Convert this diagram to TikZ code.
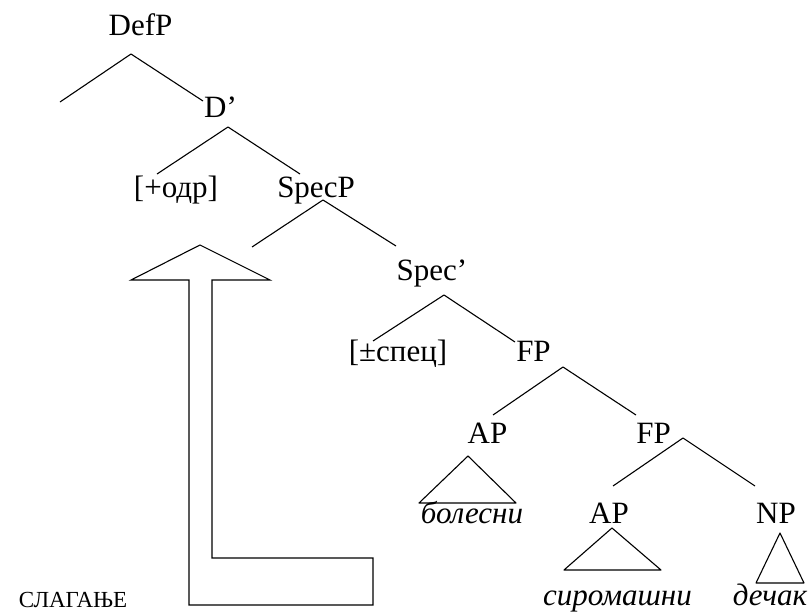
\documentclass[tikz,border=0pt]{standalone}
\usepackage{fontspec}
\setmainfont{Liberation Serif}
\tikzset{
  lbl/.style={inner sep=0pt,anchor=base,font=\fontsize{31}{36}\selectfont},
  word/.style={lbl,font=\fontsize{31}{36}\selectfont\itshape},
  branch/.style={line width=1.1pt,line join=round}
}

\begin{document}
\begin{tikzpicture}[x=1pt,y=-1pt]
          \useasboundingbox (0,0) rectangle (812,616);
          % labels
          \node[lbl] (defp) at (140.5,35) {DefP};
          \node[lbl] (dbar) at (220.5,117) {D’};
          \node[lbl] (odr) at (176,197) {[+одр]};
          \node[lbl] (specp) at (316,197) {SpecP};
          \node[lbl] (specbar) at (432,280) {Spec’};
          \node[lbl] (spec) at (398,361) {[±спец]};
          \node[lbl] (fp) at (533.5,361) {FP};
          \node[lbl] (ap) at (487.5,443) {AP};
          \node[lbl] (fpb) at (653.5,443) {FP};
          \node[lbl] (apb) at (609,523) {AP};
          \node[lbl] (np) at (776,523) {NP};
          \node[word] (bol) at (472,523) {болесни};
          \node[word] (sir) at (617.5,605) {сиромашни};
          \node[word] (dec) at (770,605) {дечак};
          \node[lbl,font=\fontsize{23}{28}\selectfont] (slag) at (73,607) {СЛАГАЊЕ};
          % branching points
          \coordinate (defp-t) at ([shift={(-9.5,19)}]defp.base);
          \coordinate (dbar-t) at ([shift={(7.5,10)}]dbar.base);
          \coordinate (specp-t) at ([shift={(7,3)}]specp.base);
          \coordinate (specbar-t) at ([shift={(12,15)}]specbar.base);
          \coordinate (fp-t) at ([shift={(29.5,6)}]fp.base);
          \coordinate (fpb-t) at ([shift={(29.5,-5)}]fpb.base);
          \coordinate (defp-spec) at (60,102);
          \coordinate (specp-spec) at (252,247);
          % tree
          \draw[branch] (defp-spec) -- (defp-t) -- ([shift={(-17.5,-16)}]dbar.base);
          \draw[branch] ([shift={(-19,-23)}]odr.base) -- (dbar-t) -- ([shift={(-16,-23)}]specp.base);
          \draw[branch] (specp-spec) -- (specp-t) -- ([shift={(-36,-34)}]specbar.base);
          \draw[branch] ([shift={(-25,-20)}]spec.base) -- (specbar-t) -- ([shift={(-18.5,-19)}]fp.base);
          \draw[branch] ([shift={(5.5,-28)}]ap.base) -- (fp-t) -- ([shift={(-17.5,-28)}]fpb.base);
          \draw[branch] ([shift={(4,-37)}]apb.base) -- (fpb-t) -- ([shift={(-21,-37)}]np.base);
          % triangles
          \draw[branch] ([shift={(-4,-67)}]bol.base) -- ++(-49,47) -- ++(97,0) -- cycle;
          \draw[branch] ([shift={(-5.5,-77)}]sir.base) -- ++(-48,42) -- ++(97,0) -- cycle;
          \draw[branch] ([shift={(10,-72)}]dec.base) -- ++(-24,50) -- ++(48,0) -- cycle;
          % movement arrow
          \draw[branch,line join=miter] (200,245) -- (270,280) -- (212,280) -- (212,558) -- (373,558)
                -- (373,605) -- (189,605) -- (189,280) -- (131,280) -- cycle;
\end{tikzpicture}
\end{document}
